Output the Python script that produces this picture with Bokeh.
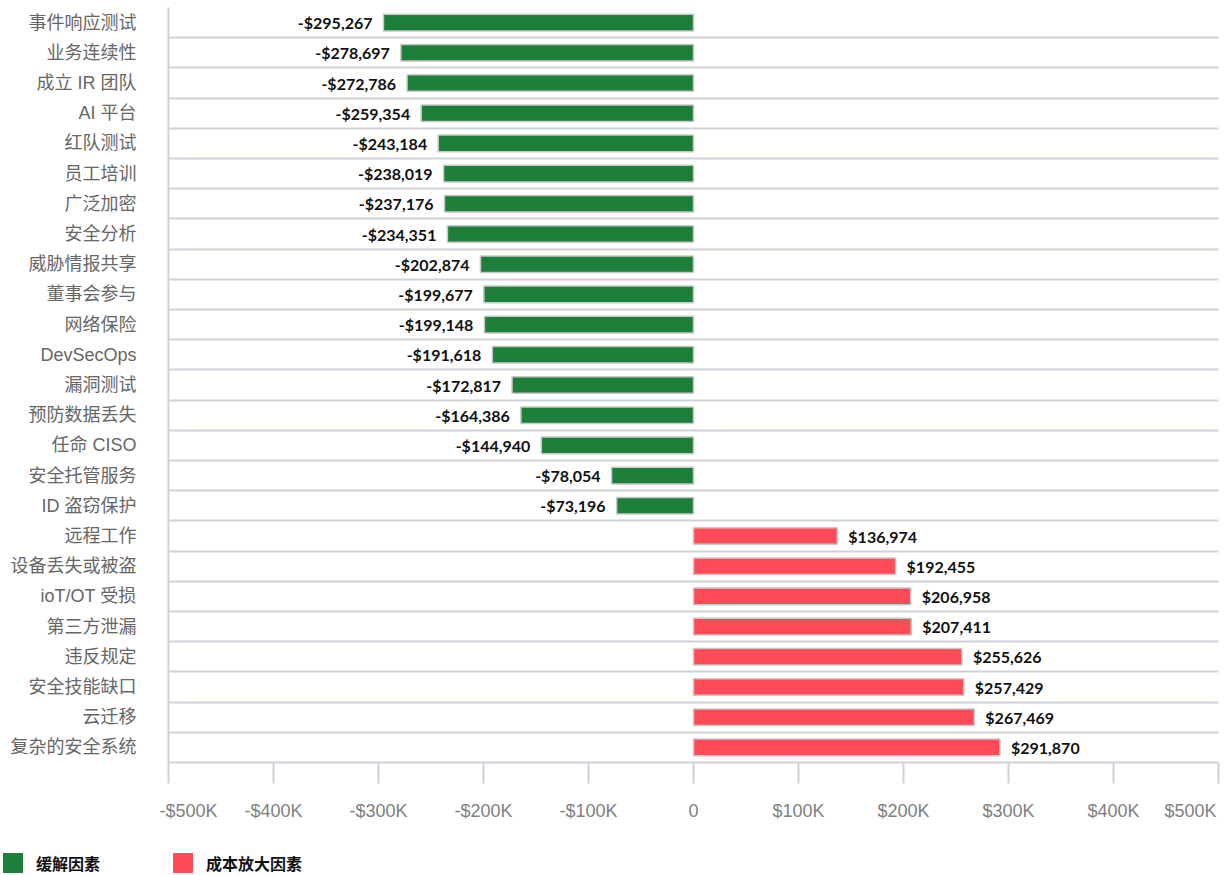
from bokeh.plotting import figure
from bokeh.models import (ColumnDataSource, FixedTicker, Range1d, Legend, LegendItem)
from bokeh.core.properties import value
from bokeh.embed import file_html
from bokeh.resources import INLINE

categories = ["事件响应测试", "业务连续性", "成立 IR 团队", "AI 平台", "红队测试", "员工培训",
              "广泛加密", "安全分析", "威胁情报共享", "董事会参与", "网络保险", "DevSecOps",
              "漏洞测试", "预防数据丢失", "任命 CISO", "安全托管服务", "ID 盗窃保护", "远程工作",
              "设备丢失或被盗", "ioT/OT 受损", "第三方泄漏", "违反规定", "安全技能缺口", "云迁移",
              "复杂的安全系统"]
values = [-295267, -278697, -272786, -259354, -243184, -238019, -237176, -234351, -202874,
          -199677, -199148, -191618, -172817, -164386, -144940, -78054, -73196,
          136974, 192455, 206958, 207411, 255626, 257429, 267469, 291870]
x_ticks = [-500000, -400000, -300000, -200000, -100000, 0, 100000, 200000, 300000, 400000, 500000]
x_tick_labels = ["-$500K", "-$400K", "-$300K", "-$200K", "-$100K", "0",
                 "$100K", "$200K", "$300K", "$400K", "$500K"]
legend_labels = ["缓解因素", "成本放大因素"]

GREEN = "#1e7f3a"
RED = "#ff4b57"
GRIDC = "#cdd1da"
LABEL_FONT = "Liberation Sans, Noto Sans CJK SC"
CJK_BOLD = "Noto Sans CJK SC"
NBSP = "\u00a0"

def fmt(v):
    s = "${:,}".format(abs(v))
    return "-" + s if v < 0 else s

idx = list(range(len(categories)))
neg = {"y": [], "v": [], "lbl": []}
pos = {"y": [], "v": [], "lbl": []}
for i, v in zip(idx, values):
    d = neg if v < 0 else pos
    d["y"].append(i)
    d["v"].append(v)
    d["lbl"].append(fmt(v))
src_neg = ColumnDataSource(neg)
src_pos = ColumnDataSource(pos)

n = len(categories)
p = figure(width=1221, height=835, output_backend="svg", toolbar_location=None,
           x_range=Range1d(-500000, 500000), y_range=Range1d(n - 0.5, -0.5),
           min_border_left=168, min_border_right=3, min_border_top=7, min_border_bottom=73)
p.outline_line_color = None
p.background_fill_color = "white"
p.border_fill_color = "white"

p.hbar(y="y", left=0, right="v", height=0.55, source=src_neg,
       fill_color=GREEN, line_color="#c8c8c8", line_width=1.5)
p.hbar(y="y", left=0, right="v", height=0.55, source=src_pos,
       fill_color=RED, line_color="#c8c8c8", line_width=1.5)

p.text(x="v", y="y", text="lbl", source=src_neg, text_align="right", text_baseline="middle",
       x_offset=-11, text_font=value("Lato"), text_font_style="bold",
       text_font_size="16px", text_color="#111111")
p.text(x="v", y="y", text="lbl", source=src_pos, text_align="left", text_baseline="middle",
       x_offset=11, text_font=value("Lato"), text_font_style="bold",
       text_font_size="16px", text_color="#111111")

# grids
p.xgrid.visible = False
p.ygrid.ticker = FixedTicker(ticks=[i - 0.5 for i in range(n)])
p.ygrid.grid_line_color = GRIDC
p.ygrid.grid_line_width = 2

# y axis
p.yaxis.ticker = FixedTicker(ticks=idx)
p.yaxis.major_label_overrides = {i: c for i, c in zip(idx, categories)}
p.yaxis.major_tick_line_color = None
p.yaxis.minor_tick_line_color = None
p.yaxis.axis_line_color = GRIDC
p.yaxis.axis_line_width = 2
p.yaxis.major_label_standoff = 26
p.yaxis.major_label_text_font = LABEL_FONT
p.yaxis.major_label_text_font_size = "18px"
p.yaxis.major_label_text_color = "#666666"

# x axis
p.xaxis.ticker = FixedTicker(ticks=x_ticks)
overrides = {t: l for t, l in zip(x_ticks, x_tick_labels)}
# edge labels are nudged inward, as in the original
overrides[x_ticks[0]] = NBSP * 8 + x_tick_labels[0]
overrides[x_ticks[-1]] = x_tick_labels[-1] + NBSP
p.xaxis.major_label_overrides = overrides
p.xaxis.axis_line_color = GRIDC
p.xaxis.axis_line_width = 2
p.xaxis.major_tick_line_color = GRIDC
p.xaxis.major_tick_line_width = 2
p.xaxis.major_tick_in = 0
p.xaxis.major_tick_out = 21
p.xaxis.minor_tick_line_color = None
p.xaxis.major_label_standoff = 17
p.xaxis.major_label_text_font = LABEL_FONT
p.xaxis.major_label_text_font_size = "18px"
p.xaxis.major_label_text_color = "#808080"

# legend strip below the chart (separate root, so it is not frame-aligned)
pl = figure(width=1221, height=40, output_backend="svg", toolbar_location=None,
            x_range=Range1d(0, 1), y_range=Range1d(0, 1),
            x_axis_location=None, y_axis_location=None, min_border=0)
pl.outline_line_color = None
pl.grid.visible = False
# zero-sized swatch renderers: they only provide the legend glyph styling
g_neg = pl.rect(x=[0], y=[0], width=0, height=0, fill_color=GREEN, line_color=None)
g_pos = pl.rect(x=[0], y=[0], width=0, height=0, fill_color=RED, line_color=None)
legend = Legend(items=[LegendItem(label=legend_labels[0], renderers=[g_neg]),
                       LegendItem(label=legend_labels[1], renderers=[g_pos])],
                orientation="horizontal", location=(0, 0),
                glyph_width=25, glyph_height=25, label_standoff=11, spacing=70,
                padding=0, margin=0, border_line_color=None, background_fill_alpha=0,
                label_text_font=CJK_BOLD, label_text_font_style="bold",
                label_text_font_size="16px", label_text_color="#111111")
pl.add_layout(legend)

open("out.html", "w").write(file_html([p, pl], INLINE))
